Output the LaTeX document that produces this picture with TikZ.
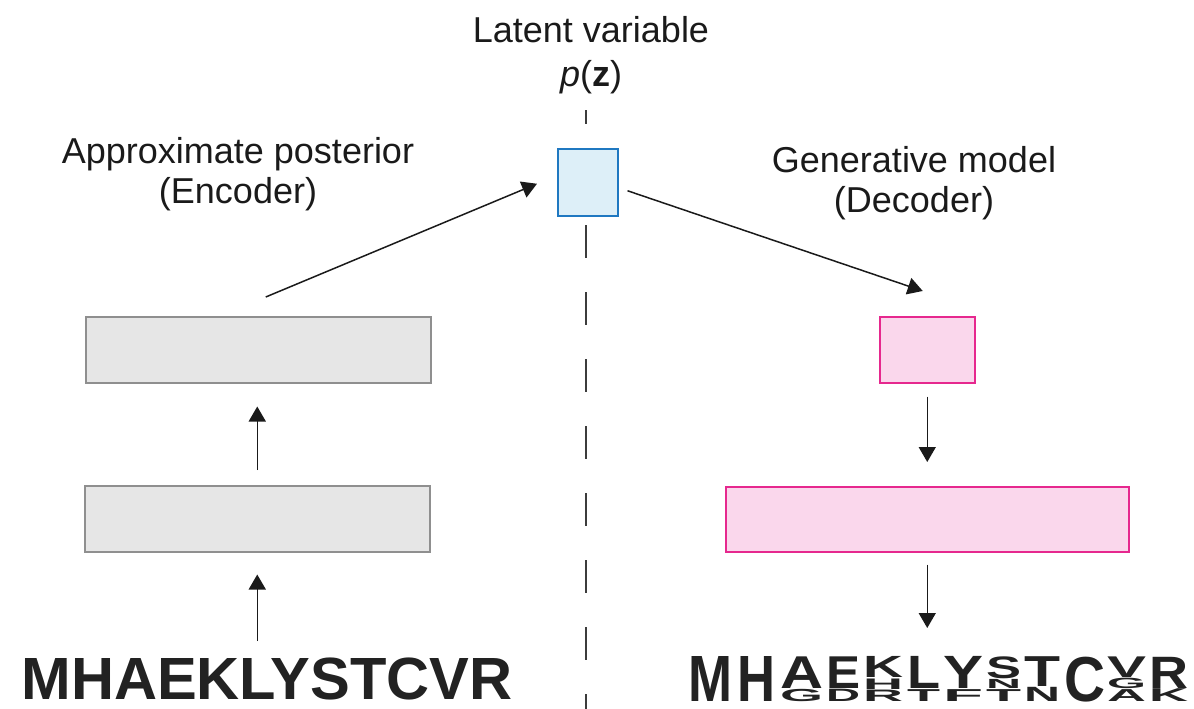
\documentclass[tikz,border=0pt]{standalone}
\usepackage{fontspec}
\usepackage{graphicx}
\setmainfont{Liberation Sans}
\usetikzlibrary{arrows.meta,calc}

\definecolor{encfill}{HTML}{E6E6E6}
\definecolor{encline}{HTML}{8F8F8F}
\definecolor{decfill}{HTML}{FAD7EC}
\definecolor{decline}{HTML}{E6288E}
\definecolor{latfill}{HTML}{DDEFF8}
\definecolor{latline}{HTML}{1F78C1}
\definecolor{ink}{HTML}{1A1A1A}
\definecolor{logoink}{HTML}{222222}

\begin{document}
\begin{tikzpicture}[x=1pt,y=-1pt,
  layer/.style={draw, line width=1.5pt, inner sep=0pt, anchor=north west},
  enclayer/.style={layer, draw=encline, fill=encfill},
  declayer/.style={layer, draw=decline, fill=decfill},
  latlayer/.style={layer, draw=latline, fill=latfill},
  arr/.style={draw=ink, line width=1.5pt, -{Triangle[length=15pt,width=17pt]}},
  divider/.style={draw=ink!85, line width=1.5pt, dash pattern=on 33pt off 34pt, dash phase=19pt},
  caption/.style={font=\fontsize{36}{40}\selectfont, align=center, inner sep=0pt, text=ink},
  seqtext/.style={font=\fontsize{59.6}{60}\selectfont\bfseries, inner sep=0pt, text=logoink}
]
\useasboundingbox (0,0) rectangle (1194,709);

% separation between encoder and decoder halves
\draw[divider] (586,110) -- (586,709);

% network layers
\node[enclayer, minimum width=345pt, minimum height=66pt] (enc1) at (85,316) {};
\node[enclayer, minimum width=345pt, minimum height=66pt] (enc2) at (84,485) {};
\node[latlayer, minimum width=60pt, minimum height=67pt] (latent) at (557,148) {};
\node[declayer, minimum width=95pt, minimum height=66pt] (dec1) at (879,316) {};
\node[declayer, minimum width=403pt, minimum height=65pt] (dec2) at (725,486) {};

% captions
\node[caption, font=\fontsize{36}{44}\selectfont] (latlbl) at (591,55) {Latent variable\\{\itshape p}(\textbf{z})};
\node[caption] (enclbl) at (238,174) {Approximate posterior\\(Encoder)};
\node[caption] (declbl) at (914,183) {Generative model\\(Decoder)};

% input sequence
\node[seqtext, anchor=base] (seqin) at (267,699) {MHAEKLYSTCVR};

% reconstructed sequence as a logo:
% column left / column width / bottom fraction / height fraction / residue
\foreach \x/\w/\b/\h/\L in {
  688/44/0/1/M, 737/38/0/1/H,
  780/43/0/.29/G, 780/43/.29/.71/A,
  826/34/0/.29/D, 826/34/.29/.71/E,
  863/40/0/.27/R, 863/40/.27/.25/H, 863/40/.52/.48/K,
  907/33/0/.28/T, 907/33/.28/.72/L,
  943/40/0/.28/F, 943/40/.28/.72/Y,
  986/35/0/.28/T, 986/35/.28/.22/N, 986/35/.5/.5/S,
  1024/36/0/.33/N, 1024/36/.33/.67/T,
  1064/41/0/1/C,
  1107/39/0/.28/A, 1107/39/.28/.25/G, 1107/39/.53/.47/V,
  1149/39/0/.3/K, 1149/39/.3/.7/R}{
  \pgfmathsetmacro{\ly}{702-46*\b}
  \pgfmathsetmacro{\lh}{46*\h-1}
  \node[anchor=south west, inner sep=0pt, text=logoink] (lg-\x-\L) at (\x,\ly)
    {\resizebox*{\w pt}{\lh pt}{\bfseries\L}};
}
\coordinate (seqout) at (926.5,656);

% encoder path
\draw[arr, shorten <=16pt, shorten >=22pt] (seqin.north -| enc2.south) -- (enc2.south);
\draw[arr, shorten <=15pt, shorten >=23pt] (enc2.north) -- (enc2.north |- enc1.south);
\draw[arr] ($(enc1.north)+(7.5,-19)$) -- ($(latent.west)+(-20,1.5)$);

% decoder path
\draw[arr] ($(latent.east)+(9,8.5)$) -- ($(dec1.north)+(-4.5,-25)$);
\draw[arr, shorten <=13pt, shorten >=24pt] (dec1.south) -- (dec1.south |- dec2.north);
\draw[arr, shorten <=12pt, shorten >=28pt] (dec2.south) -- (dec2.south |- seqout);
\end{tikzpicture}
\end{document}
